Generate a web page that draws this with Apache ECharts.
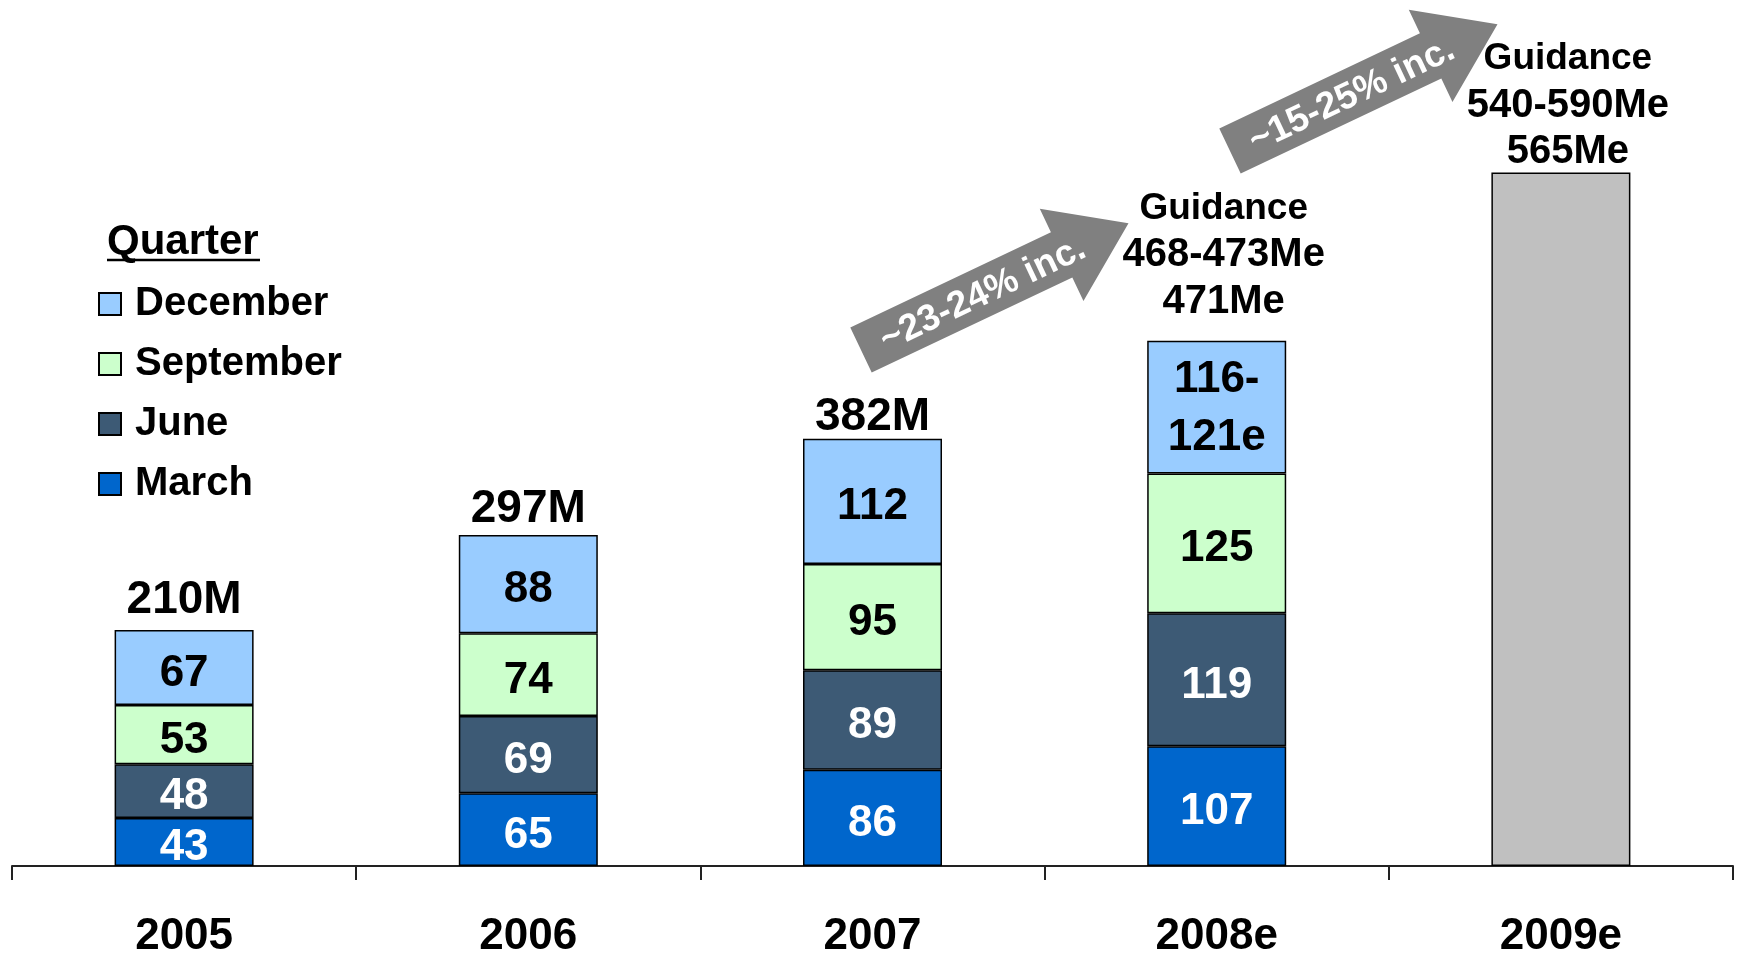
<!DOCTYPE html>
<html>
<head>
<meta charset="utf-8">
<title>Quarterly revenue</title>
<script src="https://cdn.jsdelivr.net/npm/echarts@6/dist/echarts.min.js"></script>
<style>
    html, body { margin: 0; padding: 0; background: #fff; }
    #chart { width: 1744px; height: 963px; }
</style>
</head>
<body>
<div id="chart"></div>
<script>
// values (M)
const categories = ['2005', '2006', '2007', '2008e', '2009e']
const march = [43, 65, 86, 107, null]
const june = [48, 69, 89, 119, null]
const september = [53, 74, 95, 125, null]
const december = [67, 88, 112, 118.5, null]
const decemberText = ['67', '88', '112', '116-\n121e', '']
const guidanceBar = [null, null, null, null, 620]
const totalText = ['210M', '297M', '382M', null, null]
const guidanceRange = [null, null, null, '468-473Me', '540-590Me']
const guidanceMid = [null, null, null, '471Me', '565Me']
const arrowText = ['~23-24% inc.', '~15-25% inc.']

const FONT = '"Liberation Sans", Arial, sans-serif'
const colors = { December: '#99CCFF', September: '#CCFFCC', June: '#3D5A75', March: '#0066CC', guidance: '#C0C0C0' }

const chart = echarts.init(document.getElementById('chart'))

const barSeries = (name, data, textColor, text) => ({
    name,
    type: 'bar',
    stack: 'q',
    barWidth: 139,
    // two-line labels sit a little higher
    data: data.map((v, i) => (text && text[i].includes('\n'))
        ? { value: v, label: { offset: [0, 2], lineHeight: 58 } }
        : v),
    itemStyle: { color: colors[name] || colors.guidance, borderColor: '#000', borderWidth: 1.5 },
    label: {
        show: !!textColor,
        position: 'inside',
        offset: [0, 6],
        color: textColor,
        fontFamily: FONT,
        fontWeight: 'bold',
        fontSize: 44,
        lineHeight: 56,
        formatter: p => text ? text[p.dataIndex] : p.value
    }
})

// stack tops for the labels above each bar
const tops = categories.map((c, i) =>
    [march, june, september, december, guidanceBar].reduce((s, arr) => s + (arr[i] || 0), 0))

// gap between bar top and label box, px; guidance blocks sit a bit right of centre
const labelGap = [7, 3, -2, 16, -3]
const labelShift = [0, 0, 0, 7, 7]

const totalData = tops.map((v, i) => ({
    value: v,
    label: {
        distance: labelGap[i],
        offset: [labelShift[i], 0],
        formatter: totalText[i]
            ? '{t|' + totalText[i] + '}'
            : '{g|Guidance}\n{n|' + guidanceRange[i] + '}\n{n|' + guidanceMid[i] + '}'
    }
}))

// block arrow, local coords: tail centre at 0,0 pointing +x
const arrowShape = [[0, -25], [222, -25], [222, -51], [296, 0], [222, 51], [222, 25], [0, 25]]
const arrowPos = [[861, 350], [1230, 151]]
const arrowAngle = 25.35 * Math.PI / 180

const arrows = arrowPos.map((pos, i) => ({
    type: 'group',
    x: pos[0],
    y: pos[1],
    rotation: arrowAngle,
    children: [
        { type: 'polygon', shape: { points: arrowShape }, style: { fill: '#808080' } },
        {
            type: 'text',
            x: 134,
            y: 2,
            style: {
                text: arrowText[i],
                fill: '#fff',
                font: 'bold 37px ' + FONT,
                textAlign: 'center',
                textVerticalAlign: 'middle'
            }
        }
    ]
}))

chart.setOption({
    animation: false,
    backgroundColor: '#fff',
    grid: { left: 12, right: 11, top: 83, bottom: 97 },
    legend: {
        data: ['December', 'September', 'June', 'March'],
        orient: 'vertical',
        left: 93,
        top: 279,
        icon: 'rect',
        itemWidth: 22,
        itemHeight: 22,
        itemGap: 20,
        selectedMode: false,
        textStyle: {
            color: '#000',
            fontFamily: FONT,
            fontWeight: 'bold',
            fontSize: 40,
            lineHeight: 40,
            padding: [0, 0, 0, 9]
        }
    },
    xAxis: {
        type: 'category',
        data: categories,
        axisLine: { lineStyle: { color: '#222', width: 2 } },
        axisTick: { show: true, length: 14, lineStyle: { color: '#222', width: 2 } },
        axisLabel: {
            color: '#000',
            fontFamily: FONT,
            fontWeight: 'bold',
            fontSize: 44,
            margin: 49
        }
    },
    yAxis: { type: 'value', min: 0, max: 700, show: false },
    graphic: [
        {
            type: 'text',
            left: 107,
            top: 221,
            style: { text: 'Quarter', fill: '#000', font: 'bold 42px ' + FONT }
        },
        { type: 'line', shape: { x1: 107, y1: 260, x2: 260, y2: 260 }, style: { stroke: '#000', lineWidth: 2.5 } },
        ...arrows
    ],
    series: [
        barSeries('March', march, '#fff'),
        barSeries('June', june, '#fff'),
        barSeries('September', september, '#000'),
        barSeries('December', december, '#000', decemberText),
        barSeries('Guidance', guidanceBar, null),
        {
            name: 'Total',
            type: 'scatter',
            symbolSize: 0,
            itemStyle: { opacity: 1 },
            data: totalData,
            label: {
                show: true,
                position: 'top',
                color: '#000',
                align: 'center',
                rich: {
                    t: { fontFamily: FONT, fontWeight: 'bold', fontSize: 46, lineHeight: 46, color: '#000' },
                    g: { fontFamily: FONT, fontWeight: 'bold', fontSize: 37, lineHeight: 46.5, color: '#000' },
                    n: { fontFamily: FONT, fontWeight: 'bold', fontSize: 40, lineHeight: 46.5, color: '#000' }
                }
            }
        }
    ]
})

window.addEventListener('resize', () => chart.resize())
</script>
</body>
</html>
